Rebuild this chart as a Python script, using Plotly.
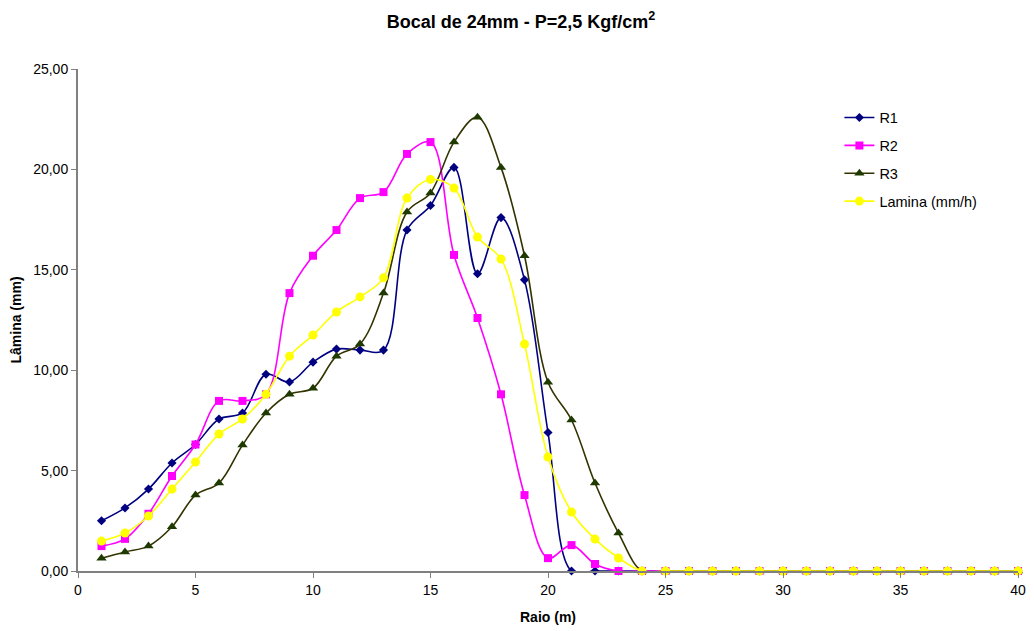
import plotly.graph_objects as go

raio = list(range(1, 41))

r1 = [2.50, 3.14, 4.08, 5.38, 6.30, 7.57, 7.87, 9.80, 9.41, 10.40,
      11.05, 11.00, 11.00, 16.98, 18.20, 20.10, 14.80, 17.60, 14.50, 6.90,
      0.00, 0.00] + [0.0] * 18
r2 = [1.24, 1.60, 2.85, 4.73, 6.30, 8.47, 8.47, 8.80, 13.84, 15.70,
      16.98, 18.57, 18.87, 20.77, 21.36, 15.74, 12.60, 8.80, 3.78, 0.64,
      1.29, 0.35, 0.00] + [0.0] * 17
r3 = [0.64, 0.95, 1.24, 2.20, 3.78, 4.38, 6.27, 7.87, 8.80, 9.10,
      10.70, 11.30, 13.84, 17.88, 18.83, 21.36, 22.60, 20.10, 15.70, 9.40,
      7.52, 4.38, 1.89, 0.00] + [0.0] * 16
lamina = [1.49, 1.89, 2.74, 4.08, 5.43, 6.82, 7.57, 8.80, 10.70, 11.75,
          12.90, 13.65, 14.60, 18.57, 19.50, 19.07, 16.63, 15.54, 11.30, 5.68,
          2.94, 1.59, 0.65, 0.00] + [0.0] * 16

series = [
    ("R1", r1, "#000080", "#000080", "diamond", 7),
    ("R2", r2, "#FF00FF", "#FF00FF", "square", 8),
    ("R3", r3, "#333300", "#1F3A00", "triangle-up", 9),
    ("Lamina (mm/h)", lamina, "#FFFF00", "#FFFF00", "circle", 9),
]

fig = go.Figure()
for name, vals, lc, mc, sym, sz in series:
    fig.add_trace(go.Scatter(
        x=raio, y=vals, name=name, mode="lines+markers",
        line=dict(color=lc, width=1.6, shape="spline", smoothing=1.0),
        marker=dict(color=mc, symbol=sym, size=sz, line=dict(width=0)),
        cliponaxis=False, legendgroup=name,
    ))

font_family = "Liberation Sans, Arial, sans-serif"
fig.update_layout(
    width=1026, height=623,
    paper_bgcolor="white", plot_bgcolor="white",
    margin=dict(l=70, r=16, t=61, b=60),
    separators=",.",
    font=dict(family=font_family, size=14, color="black"),
    title=dict(text="<b>Bocal de 24mm - P=2,5 Kgf/cm<sup>2</sup></b>",
               x=0.5, xanchor="center", xref="container",
               y=0.978, yanchor="middle", yref="container",
               font=dict(size=18, family=font_family)),
    xaxis=dict(range=[0, 40], tickmode="array", tickvals=[0, 5, 10, 15, 20, 25, 30, 35, 40],
               automargin=False,
               showgrid=False, zeroline=False, showline=True, linecolor="#808080", linewidth=2,
               ticks="outside", tickcolor="#808080", ticklen=5,
               tickfont=dict(size=14),
               title=dict(text="<b>Raio (m)</b>", font=dict(size=14), standoff=15)),
    yaxis=dict(range=[0, 25], tickmode="array", tickvals=[0, 5, 10, 15, 20, 25],
               tickformat=".2f", automargin=False,
               showgrid=False, zeroline=False, showline=True, linecolor="#808080", linewidth=2,
               ticks="outside", tickcolor="#808080", ticklen=5,
               tickfont=dict(size=14),
               title=dict(text="<b>Lâmina (mm)</b>", font=dict(size=14), standoff=11)),
    legend=dict(x=0.81, y=0.935, xanchor="left", yanchor="top",
                bgcolor="rgba(255,255,255,0)", tracegroupgap=6,
                font=dict(size=14.5)),
)

fig.write_html("out.html")
